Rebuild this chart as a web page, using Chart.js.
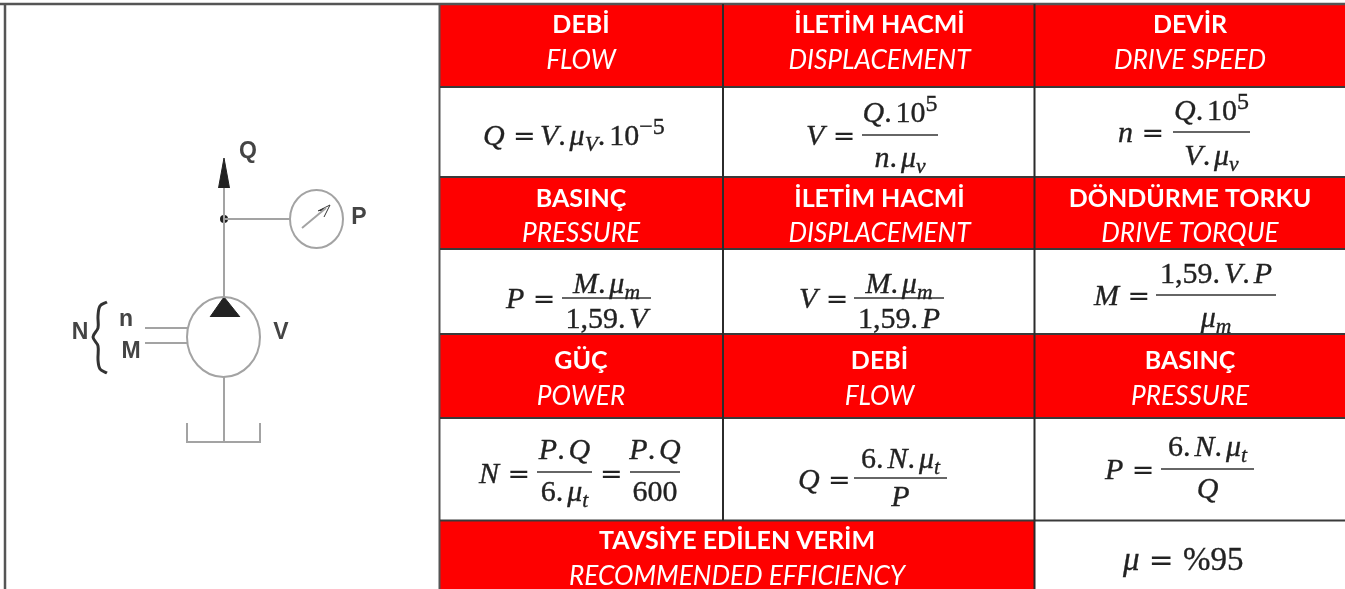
<!DOCTYPE html>
<html lang="tr">
<head>
<meta charset="utf-8">
<title>Pompa formülleri</title>
<script src="https://cdn.jsdelivr.net/npm/chart.js@4"></script>
<style>
    html, body { margin: 0; padding: 0; background: #fff; overflow: hidden; }
    canvas { display: block; filter: blur(0.45px); }
</style>
</head>
<body>
<canvas id="chart" width="1345" height="589"></canvas>
<script>
// ===== TEXTOS =====
const titleTexts = ['DEBİ', 'İLETİM HACMİ', 'DEVİR', 'BASINÇ', 'İLETİM HACMİ', 'DÖNDÜRME TORKU', 'GÜÇ', 'DEBİ', 'BASINÇ', 'TAVSİYE EDİLEN VERİM'];
const subTexts = ['FLOW', 'DISPLACEMENT', 'DRIVE SPEED', 'PRESSURE', 'DISPLACEMENT', 'DRIVE TORQUE', 'POWER', 'FLOW', 'PRESSURE', 'RECOMMENDED EFFICIENCY'];
const lhsTexts = ['Q  = V.μ_{V}.10^{−5}', 'V  =', 'n  =', 'P  =', 'V  =', 'M  =', 'N  =', '=', 'Q  =', 'P  =', 'μ  =  %95'];
const numTexts = [null, 'Q.10^{5}', 'Q.10^{5}', 'M.μ_{m}', 'M.μ_{m}', '1,59.V.P', 'P.Q', 'P.Q', '6.N.μ_{t}', '6.N.μ_{t}', null];
const denTexts = [null, 'n.μ_{v}', 'V.μ_{v}', '1,59.V', '1,59.P', 'μ_{m}', '6.μ_{t}', '600', 'P', 'Q', null];
const symbolTexts = ['Q', 'P', 'V', 'N', 'n', 'M'];

// ===== GEOMETRÍA DE LA TABLA =====
const colEdges = [440, 723, 1034.5, 1345];
const rowEdges = [4, 87, 177, 249, 334, 418, 520.5, 589];
const titleCenters = [581, 879.5, 1190, 581, 879.5, 1190, 581, 879.5, 1190, 737];
const titleBases = [33, 33, 33, 207, 207, 207, 369, 369, 369, 549];
const subBases = [69, 69, 69, 242, 242, 242, 405, 405, 405, 585];

// formula: x de inicio, base, barra [x0, x1, y], base numerador, base denominador
const lhsX = [483, 806, 1118, 506, 799, 1094, 479, 600, 798, 1105, 1123];
const lhsBase = [145, 145, 142, 308, 308, 305, 483, 483, 489, 479, 570];
const lhsSize = [30, 30, 30, 30, 30, 30, 30, 30, 30, 30, 33];
const barX0 = [null, 862, 1173, 562, 854, 1156, 537, 630, 854, 1161, null];
const barX1 = [null, 938, 1250, 651, 944, 1276, 592, 680, 947, 1254, null];
const barY = [null, 135, 132, 298, 298, 295, 472, 472, 478, 469, null];
const numBase = [null, 122, 120, 293, 293, 283, 459, 459, 468, 456, null];
const denBase = [null, 167, 165, 328, 328, 327, 501, 501, 506, 498, null];

// ===== DIAGRAMA =====
const symbolX = [248, 359, 281, 80, 126, 131];
const symbolY = [152, 218, 333, 333, 320, 352];
const pumpCenter = [{ x: 223.5, y: 337 }];
const gaugeCenter = [{ x: 316.5, y: 219 }];
const junction = [{ x: 224, y: 219 }];
const diagramLines = [
    [[224, 188], [224, 297]],
    [[224, 219], [290, 219]],
    [[302, 228], [326, 208]],
    [[145, 328], [188, 328]],
    [[145, 343], [187, 343]],
    [[224, 377], [224, 442]],
    [[187, 423], [187, 442], [260, 442], [260, 423]],
];
const arrowHead = [[218.5, 188], [224, 158], [229.5, 188]];
const pumpHead = [[210, 317], [224, 297], [240, 317]];
const needleHead = [[318, 211], [330, 205], [324, 217]];
const braceLine = [[107, 302], [100, 306], [98, 316], [98, 328], [93, 337], [98, 346], [98, 360], [100, 369], [107, 373]];

// ===== DATASETS =====
const RED = '#fe0000';
const GRID = '#2b2b2b';
const GRAY = '#a3a3a3';
const toPts = arr => arr.map(([x, y]) => ({ x, y }));

function line(points, color, width, extra) {
    return Object.assign({
        data: toPts(points), showLine: true, borderColor: color, borderWidth: width,
        pointRadius: 0, tension: 0, fill: false,
    }, extra || {});
}

function redCell(x0, x1, y0, y1) {
    return line([[x0, y0], [x1, y0]], RED, 0, { backgroundColor: RED, fill: { value: y1 } });
}

function polygon(points, color) {
    return line(points, color, 1, { backgroundColor: color, fill: { value: points[0][1] } });
}

// la bomba y el manometro no son circulos perfectos en el original
function ellipseStyle(rx, ry, color, width) {
    const c = document.createElement('canvas');
    c.width = Math.ceil(rx * 2 + width * 2);
    c.height = Math.ceil(ry * 2 + width * 2);
    const g = c.getContext('2d');
    g.strokeStyle = color;
    g.lineWidth = width;
    g.beginPath();
    g.ellipse(c.width / 2, c.height / 2, rx, ry, 0, 0, Math.PI * 2);
    g.stroke();
    return c;
}

function marker(points, style) {
    return { data: points, showLine: false, pointStyle: style };
}

const datasets = [];

// lineas por encima del relleno
colEdges.slice(1, 3).forEach(x => datasets.push(line([[x, rowEdges[0]], [x, rowEdges[6]]], GRID, 2)));
datasets.push(line([[colEdges[2], rowEdges[6]], [colEdges[2], rowEdges[7]]], GRID, 2));
rowEdges.slice(1, 7).forEach(y => datasets.push(line([[colEdges[0], y], [colEdges[3], y]], '#3a3a3a', 2)));
datasets.push(line([[0, 4], [1345, 4]], '#555', 2.5));
datasets.push(line([[5, 4], [5, 589]], '#555', 2.5));
datasets.push(line([[439.5, 4], [439.5, 589]], '#555', 2));

barX0.forEach((x0, i) => {
    if (x0 !== null) datasets.push(line([[x0, barY[i]], [barX1[i], barY[i]]], '#333', 1.5));
});

diagramLines.forEach(pts => datasets.push(line(pts, GRAY, 2)));
datasets.push(line(braceLine, '#333', 3, { tension: 0.35 }));
datasets.push(marker(pumpCenter, ellipseStyle(36.5, 40, GRAY, 2)));
datasets.push(marker(gaugeCenter, ellipseStyle(26.5, 29, GRAY, 2)));
datasets.push({
    data: junction, showLine: false, pointStyle: 'circle', pointRadius: 4,
    pointBackgroundColor: '#222', pointBorderWidth: 0,
});
datasets.push(polygon(arrowHead, '#222'));
datasets.push(polygon(pumpHead, '#222'));
datasets.push(polygon(needleHead, '#333'));

// filas rojas
for (let r = 0; r < 3; r++) {
    for (let c = 0; c < 3; c++) {
        datasets.push(redCell(colEdges[c], colEdges[c + 1], rowEdges[r * 2], rowEdges[r * 2 + 1]));
    }
}
datasets.push(redCell(colEdges[0], colEdges[2], rowEdges[6], rowEdges[7]));

// ===== TEXTO MATEMATICO =====
const MATH_SIZE = 30;

function parseMath(src) {
    const runs = [];
    for (let i = 0; i < src.length; i++) {
        const ch = src[i];
        if ((ch === '_' || ch === '^') && src[i + 1] === '{') {
            const end = src.indexOf('}', i);
            runs.push({ text: src.slice(i + 2, end), mode: ch });
            i = end;
        } else {
            runs.push({ text: ch, mode: '' });
        }
    }
    return runs;
}

function runFont(run, size) {
    if (run.text === '=') return `${size * 0.9}px "DejaVu Sans"`;
    const s = run.mode === '_' ? size * 0.72 : run.mode === '^' ? size * 0.8 : size;
    const italic = /[A-Za-zμ]/.test(run.text);
    return `${italic ? 'italic ' : ''}${s}px "Liberation Serif"`;
}

function runAdvance(ctx, run, size) {
    if (run.text === ' ') return size * 0.14;
    ctx.font = runFont(run, size);
    const w = ctx.measureText(run.text).width;
    return run.text === '.' ? w + size * 0.13 : w;
}

function mathWidth(ctx, src, size) {
    return parseMath(src).reduce((sum, run) => sum + runAdvance(ctx, run, size), 0);
}

function drawMath(ctx, src, x, y, size) {
    let cx = x;
    parseMath(src).forEach(run => {
        if (run.text !== ' ') {
            const dy = run.mode === '_' ? size * 0.2 : run.mode === '^' ? -size * 0.36 : 0;
            ctx.font = runFont(run, size);
            ctx.fillText(run.text, cx, y + dy);
            if (run.text !== '=') ctx.strokeText(run.text, cx, y + dy);
        }
        cx += runAdvance(ctx, run, size);
    });
}

// ===== PLUGIN DE TEXTO =====
const labelsPlugin = {
    id: 'tableLabels',
    afterDatasetsDraw(chart) {
        const { ctx, scales: { x, y } } = chart;
        ctx.save();
        ctx.textBaseline = 'alphabetic';

        ctx.fillStyle = '#fff';
        ctx.textAlign = 'center';
        titleTexts.forEach((t, i) => {
            ctx.font = 'bold 25px Lato';
            ctx.fillText(t, x.getPixelForValue(titleCenters[i]), y.getPixelForValue(titleBases[i]));
            ctx.font = 'italic 26.2px Lato';
            ctx.fillText(subTexts[i], x.getPixelForValue(titleCenters[i]), y.getPixelForValue(subBases[i]));
        });

        ctx.fillStyle = '#444';
        ctx.textAlign = 'center';
        ctx.textBaseline = 'middle';
        symbolTexts.forEach((t, i) => {
            ctx.font = 'bold 23px "Liberation Sans"';
            ctx.fillText(t, x.getPixelForValue(symbolX[i]), y.getPixelForValue(symbolY[i]));
        });

        ctx.fillStyle = '#222';
        ctx.strokeStyle = '#222';
        ctx.lineWidth = 0.35;
        ctx.textAlign = 'left';
        ctx.textBaseline = 'alphabetic';
        lhsTexts.forEach((t, i) => {
            drawMath(ctx, t, x.getPixelForValue(lhsX[i]), y.getPixelForValue(lhsBase[i]), lhsSize[i]);
            if (numTexts[i] === null) return;
            const center = x.getPixelForValue((barX0[i] + barX1[i]) / 2);
            drawMath(ctx, numTexts[i], center - mathWidth(ctx, numTexts[i], MATH_SIZE) / 2, y.getPixelForValue(numBase[i]), MATH_SIZE);
            drawMath(ctx, denTexts[i], center - mathWidth(ctx, denTexts[i], MATH_SIZE) / 2, y.getPixelForValue(denBase[i]), MATH_SIZE);
        });
        ctx.restore();
    }
};

// ===== CHART =====
new Chart(document.getElementById('chart'), {
    type: 'scatter',
    data: { datasets },
    plugins: [labelsPlugin],
    options: {
        responsive: false,
        animation: false,
        layout: { padding: 0, autoPadding: false },
        plugins: { legend: { display: false }, tooltip: { enabled: false } },
        scales: {
            x: { type: 'linear', min: 0, max: 1345, display: false },
            y: { type: 'linear', min: 0, max: 589, reverse: true, display: false },
        },
    },
});
</script>
</body>
</html>
